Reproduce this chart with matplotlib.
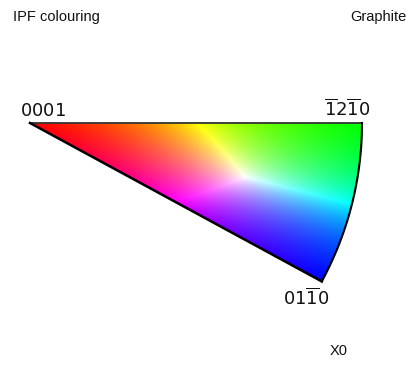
import numpy as np
import matplotlib.pyplot as plt
from matplotlib.path import Path
from matplotlib.patches import PathPatch
from matplotlib.colors import to_rgb

plt.rcParams['mathtext.fontset'] = 'custom'
plt.rcParams['mathtext.rm'] = 'DejaVu Sans'

title_left = 'IPF colouring'
title_right = 'Graphite'
ref_dir = 'X0'
pole_labels = [r'$\mathrm{0001}$', r'$\mathrm{\overline{1}2\overline{1}0}$', r'$\mathrm{01\overline{1}0}$']
pole_colours = ['#ff0000', '#00ff00', '#0000ff']

# sector geometry (pixel units, y pointing down)
cx, cy = 30.0, 123.0
radius = 332.0
span = 28.5  # degrees

fig = plt.figure(figsize=(4.12, 3.68), dpi=100)
ax = fig.add_axes([0, 0, 1, 1])

# colour field: red at the centre pole, green -> blue along the arc
x0, x1 = cx - 2, cx + radius + 2
y0, y1 = cy - 2, cy + radius * np.sin(np.radians(span)) + 4
xx, yy = np.meshgrid(np.arange(x0, x1, 0.5), np.arange(y0, y1, 0.5))
dx, dy = xx - cx, yy - cy
r = np.clip(np.hypot(dx, dy) / radius, 0, 1)
p = np.clip(np.degrees(np.arctan2(dy, dx)) / span, 0, 1)
c0, c1, c2 = [np.array(to_rgb(c)) for c in pole_colours]
w0 = (1 - r)[..., None]
w1 = (r * (1 - p))[..., None]
w2 = (r * p)[..., None]
rgb = w0 * c0 + w1 * c1 + w2 * c2
rgb = rgb / np.maximum(rgb.max(axis=2, keepdims=True), 1e-6)

t = np.radians(np.linspace(0, span, 120))
arc = np.column_stack([cx + radius * np.cos(t), cy + radius * np.sin(t)])
verts = np.vstack([[cx, cy], arc, [cx, cy]])
path = Path(verts, [Path.MOVETO] + [Path.LINETO] * len(arc) + [Path.CLOSEPOLY])
clip = PathPatch(path, facecolor='none', edgecolor='none')
ax.add_patch(clip)

im = ax.imshow(rgb, extent=(x0, x1, y1, y0), origin='upper',
               interpolation='bilinear', aspect='auto')
im.set_clip_path(clip)

# outline
ax.plot([cx, arc[0, 0]], [cy, arc[0, 1]], color='#333333', lw=1.3)
ax.plot(arc[:, 0], arc[:, 1], color='black', lw=1.5)
ax.plot([cx, arc[-1, 0]], [cy, arc[-1, 1]], color='black', lw=1.8)

ax.set_xlim(0, 412)
ax.set_ylim(368, 0)
ax.axis('off')

small = dict(family='Liberation Sans', fontsize=10.5, color='#111111')
ax.text(13, 17, title_left, ha='left', va='center', **small)
ax.text(407, 17, title_right, ha='right', va='center', **small)
ax.text(339, 351, ref_dir, ha='center', va='center', **small)

big = dict(fontsize=13, color='#111111')
ax.text(20, 116, pole_labels[0], ha='left', va='baseline', **big)
ax.text(347, 116, pole_labels[1], ha='center', va='baseline', **big)
ax.text(306, 305, pole_labels[2], ha='center', va='baseline', **big)

fig.savefig('out.png', dpi=100)
